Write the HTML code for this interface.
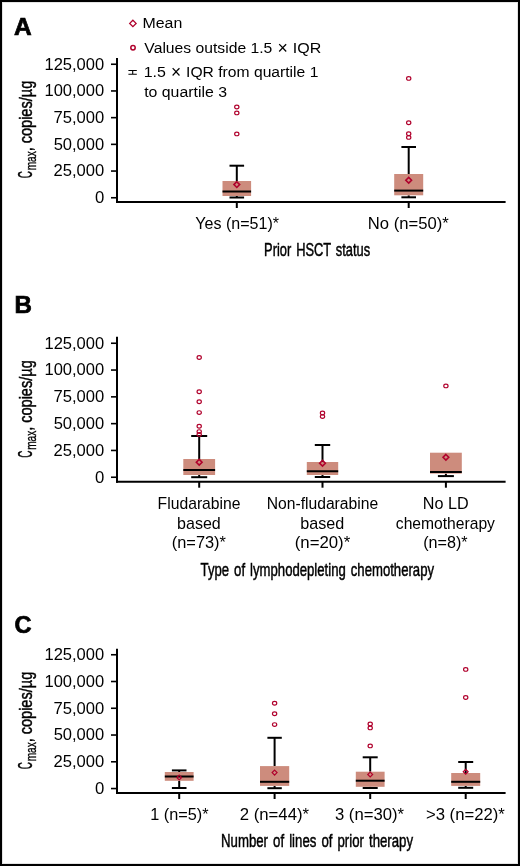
<!DOCTYPE html>
<html><head><meta charset="utf-8"><style>
html,body{margin:0;padding:0;background:#fff;}
svg{display:block;will-change:transform;}
text{font-family:"Liberation Sans", sans-serif;fill:#000;}
.k{stroke:#000;stroke-width:2;fill:none;}
.r{stroke:#b0002c;stroke-width:1.6;fill:none;}
.rc{stroke:#b0002c;stroke-width:1.2;fill:none;}
.rl{stroke:#b0002c;stroke-width:1.5;fill:none;}
</style></head><body>
<svg width="520" height="866" viewBox="0 0 520 866">
<rect x="1" y="1" width="518" height="864" fill="#fff" stroke="#000" stroke-width="2"/>
<rect x="2.5" y="2.5" width="515" height="861" fill="none" stroke="#e4e4e4" stroke-width="1"/>

<text transform="translate(13.99,34.6) scale(1.0627,1)" font-size="23" font-weight="bold" stroke="#000" stroke-width="0.7">A</text>
<path d="M132.9,20.2 L136.1,23.4 L132.9,26.6 L129.7,23.4 Z" stroke="#b0002c" stroke-width="1.3" fill="none"/>
<text transform="translate(142.49,28) scale(1.0278,1)" font-size="15.5">Mean</text>
<circle cx="133" cy="47.8" r="2.2" class="rl"/>
<text transform="translate(144.34,53) scale(1.0137,1)" font-size="15.5">Values outside 1.5</text>
<text transform="translate(277.56,54) scale(0.9863,1)" font-size="18">×</text>
<text transform="translate(292.72,53) scale(1.0346,1)" font-size="15.5">IQR</text>
<path d="M128.4,70.5 H136.8 M128.4,74.3 H136.8 M132.7,70.5 V74.3" stroke="#000" stroke-width="1.1" fill="none"/>
<text transform="translate(143.69,77) scale(1.0296,1)" font-size="15.5">1.5</text>
<text transform="translate(171.09,78.3) scale(0.9613,1)" font-size="18">×</text>
<text transform="translate(186.06,77) scale(1.0105,1)" font-size="15.5">IQR from quartile 1</text>
<text transform="translate(144.16,97) scale(1.0241,1)" font-size="15.5">to quartile 3</text>
<line x1="117" y1="58" x2="117" y2="203" class="k"/><line x1="116" y1="202" x2="505.6" y2="202" class="k"/><line x1="111" y1="64.25" x2="117" y2="64.25" stroke="#000" stroke-width="1.6"/><text transform="translate(44.44,69.6) scale(1.0149,1)" font-size="16.3">125,000</text><line x1="111" y1="90.95" x2="117" y2="90.95" stroke="#000" stroke-width="1.6"/><text transform="translate(44.44,96.3) scale(1.0149,1)" font-size="16.3">100,000</text><line x1="111" y1="117.65" x2="117" y2="117.65" stroke="#000" stroke-width="1.6"/><text transform="translate(53.45,123.0) scale(1.0190,1)" font-size="16.3">75,000</text><line x1="111" y1="144.35" x2="117" y2="144.35" stroke="#000" stroke-width="1.6"/><text transform="translate(53.64,149.7) scale(1.0153,1)" font-size="16.3">50,000</text><line x1="111" y1="171.05" x2="117" y2="171.05" stroke="#000" stroke-width="1.6"/><text transform="translate(53.47,176.4) scale(1.0187,1)" font-size="16.3">25,000</text><line x1="111" y1="197.75" x2="117" y2="197.75" stroke="#000" stroke-width="1.6"/><text transform="translate(94.95,203.1) scale(1.0268,1)" font-size="16.3">0</text><line x1="236.8" y1="202" x2="236.8" y2="208" class="k"/><line x1="408.7" y1="202" x2="408.7" y2="208" class="k"/>
<g transform="translate(0,200) rotate(-90)"><text transform="translate(21.69,32.2) scale(0.4976,1)" font-size="20" stroke="#000" stroke-width="0.45">C</text><text transform="translate(29.68,35.8) scale(0.6984,1)" font-size="14.5" stroke="#000" stroke-width="0.35">max</text><text transform="translate(48.64,31.5) scale(0.7863,1)" font-size="18.5" stroke="#000" stroke-width="0.45">, copies/µg</text></g>
<line x1="236.8" y1="165.7" x2="236.8" y2="181" class="k"/><line x1="229.5" y1="165.7" x2="244.10000000000002" y2="165.7" class="k"/><line x1="236.8" y1="196" x2="236.8" y2="197.5" class="k"/><line x1="229.5" y1="197.5" x2="244.10000000000002" y2="197.5" class="k"/><rect x="222.5" y="181" width="28.6" height="15" fill="#cd8c7d"/><line x1="222.5" y1="191.5" x2="251.10000000000002" y2="191.5" class="k"/><path d="M236.8,181.75 L239.65,184.6 L236.8,187.45 L233.95000000000002,184.6 Z" stroke="#b0002c" stroke-width="1.6" fill="none"/><ellipse cx="236.8" cy="107" rx="2.15" ry="1.85" class="rc"/><ellipse cx="236.8" cy="112.9" rx="2.15" ry="1.85" class="rc"/><ellipse cx="236.8" cy="133.9" rx="2.15" ry="1.85" class="rc"/>
<line x1="408.7" y1="147" x2="408.7" y2="174" class="k"/><line x1="401.4" y1="147" x2="416.0" y2="147" class="k"/><line x1="408.7" y1="195.3" x2="408.7" y2="197.3" class="k"/><line x1="401.4" y1="197.3" x2="416.0" y2="197.3" class="k"/><rect x="394.2" y="174" width="29.0" height="21.30000000000001" fill="#cd8c7d"/><line x1="394.2" y1="190.6" x2="423.2" y2="190.6" class="k"/><path d="M408.7,177.35 L411.55,180.2 L408.7,183.04999999999998 L405.84999999999997,180.2 Z" stroke="#b0002c" stroke-width="1.6" fill="none"/><ellipse cx="408.7" cy="78.4" rx="2.15" ry="1.85" class="rc"/><ellipse cx="408.7" cy="122.8" rx="2.15" ry="1.85" class="rc"/><ellipse cx="408.7" cy="133.7" rx="2.15" ry="1.85" class="rc"/><ellipse cx="408.7" cy="137.4" rx="2.15" ry="1.85" class="rc"/>
<text transform="translate(195.35,229) scale(1.0028,1)" font-size="16">Yes (n=51)*</text>
<text transform="translate(367.84,229) scale(1.0399,1)" font-size="16">No (n=50)*</text>
<text transform="translate(264.05,255.9) scale(0.6770,1)" font-size="19" word-spacing="2" stroke="#000" stroke-width="0.5">Prior HSCT status</text>
<text transform="translate(14.39,312.6) scale(1.0478,1)" font-size="23" font-weight="bold" stroke="#000" stroke-width="0.7">B</text>
<line x1="117" y1="336.7" x2="117" y2="482.7" class="k"/><line x1="116" y1="481.7" x2="505.6" y2="481.7" class="k"/><line x1="111" y1="343.25" x2="117" y2="343.25" stroke="#000" stroke-width="1.6"/><text transform="translate(44.44,348.6) scale(1.0149,1)" font-size="16.3">125,000</text><line x1="111" y1="370.05" x2="117" y2="370.05" stroke="#000" stroke-width="1.6"/><text transform="translate(44.44,375.4) scale(1.0149,1)" font-size="16.3">100,000</text><line x1="111" y1="396.85" x2="117" y2="396.85" stroke="#000" stroke-width="1.6"/><text transform="translate(53.45,402.2) scale(1.0190,1)" font-size="16.3">75,000</text><line x1="111" y1="423.65" x2="117" y2="423.65" stroke="#000" stroke-width="1.6"/><text transform="translate(53.64,429.0) scale(1.0153,1)" font-size="16.3">50,000</text><line x1="111" y1="450.45" x2="117" y2="450.45" stroke="#000" stroke-width="1.6"/><text transform="translate(53.47,455.8) scale(1.0187,1)" font-size="16.3">25,000</text><line x1="111" y1="477.25" x2="117" y2="477.25" stroke="#000" stroke-width="1.6"/><text transform="translate(94.95,482.6) scale(1.0268,1)" font-size="16.3">0</text><line x1="199.2" y1="481.7" x2="199.2" y2="487.7" class="k"/><line x1="322.5" y1="481.7" x2="322.5" y2="487.7" class="k"/><line x1="445.9" y1="481.7" x2="445.9" y2="487.7" class="k"/>
<g transform="translate(0,479.5) rotate(-90)"><text transform="translate(21.69,32.2) scale(0.4976,1)" font-size="20" stroke="#000" stroke-width="0.45">C</text><text transform="translate(29.68,35.8) scale(0.6984,1)" font-size="14.5" stroke="#000" stroke-width="0.35">max</text><text transform="translate(48.64,31.5) scale(0.7863,1)" font-size="18.5" stroke="#000" stroke-width="0.45">, copies/µg</text></g>
<line x1="199.2" y1="436" x2="199.2" y2="459" class="k"/><line x1="191.2" y1="436" x2="207.2" y2="436" class="k"/><line x1="199.2" y1="475" x2="199.2" y2="477.2" class="k"/><line x1="191.2" y1="477.2" x2="207.2" y2="477.2" class="k"/><rect x="183.29999999999998" y="459" width="31.8" height="16" fill="#cd8c7d"/><line x1="183.29999999999998" y1="470" x2="215.1" y2="470" class="k"/><path d="M199.2,459.34999999999997 L202.04999999999998,462.2 L199.2,465.05 L196.35,462.2 Z" stroke="#b0002c" stroke-width="1.6" fill="none"/><ellipse cx="199.2" cy="357.5" rx="2.15" ry="1.85" class="rc"/><ellipse cx="199.2" cy="391.8" rx="2.15" ry="1.85" class="rc"/><ellipse cx="199.2" cy="401.8" rx="2.15" ry="1.85" class="rc"/><ellipse cx="199.2" cy="412.6" rx="2.15" ry="1.85" class="rc"/><ellipse cx="199.2" cy="426.3" rx="2.15" ry="1.85" class="rc"/><ellipse cx="199.2" cy="431.6" rx="2.15" ry="1.85" class="rc"/><ellipse cx="199.2" cy="434.4" rx="2.15" ry="1.85" class="rc"/>
<line x1="322.5" y1="445" x2="322.5" y2="462" class="k"/><line x1="314.8" y1="445" x2="330.2" y2="445" class="k"/><line x1="322.5" y1="475" x2="322.5" y2="477" class="k"/><line x1="314.8" y1="477" x2="330.2" y2="477" class="k"/><rect x="306.8" y="462" width="31.4" height="13" fill="#cd8c7d"/><line x1="306.8" y1="471.3" x2="338.2" y2="471.3" class="k"/><path d="M322.5,460.34999999999997 L325.35,463.2 L322.5,466.05 L319.65,463.2 Z" stroke="#b0002c" stroke-width="1.6" fill="none"/><ellipse cx="322.5" cy="413" rx="2.15" ry="1.85" class="rc"/><ellipse cx="322.5" cy="416.6" rx="2.15" ry="1.85" class="rc"/>
<line x1="445.9" y1="473.6" x2="445.9" y2="476.1" class="k"/><line x1="437.9" y1="476.1" x2="453.9" y2="476.1" class="k"/><rect x="430.0" y="452.7" width="31.8" height="20.900000000000034" fill="#cd8c7d"/><line x1="430.0" y1="472" x2="461.79999999999995" y2="472" class="k"/><path d="M445.9,454.45 L448.75,457.3 L445.9,460.15000000000003 L443.04999999999995,457.3 Z" stroke="#b0002c" stroke-width="1.6" fill="none"/><ellipse cx="445.9" cy="385.9" rx="2.15" ry="1.85" class="rc"/>
<text transform="translate(157.61,509) scale(0.9821,1)" font-size="16">Fludarabine</text>
<text transform="translate(177.07,529) scale(1.0039,1)" font-size="16">based</text>
<text transform="translate(171.78,548) scale(1.0239,1)" font-size="16">(n=73)*</text>
<text transform="translate(266.72,509) scale(0.9791,1)" font-size="16">Non-fludarabine</text>
<text transform="translate(300.21,529) scale(1.0112,1)" font-size="16">based</text>
<text transform="translate(294.71,548) scale(1.0501,1)" font-size="16">(n=20)*</text>
<text transform="translate(422.87,509) scale(1.0124,1)" font-size="16">No LD</text>
<text transform="translate(395.84,529) scale(0.9783,1)" font-size="16">chemotherapy</text>
<text transform="translate(423.20,548) scale(1.0101,1)" font-size="16">(n=8)*</text>
<text transform="translate(200.61,575.5) scale(0.6916,1)" font-size="19" word-spacing="2" stroke="#000" stroke-width="0.5">Type of lymphodepleting chemotherapy</text>
<text transform="translate(14.43,632.6) scale(1.0238,1)" font-size="23" font-weight="bold" stroke="#000" stroke-width="0.7">C</text>
<line x1="117" y1="648.8" x2="117" y2="794" class="k"/><line x1="116" y1="793" x2="505.6" y2="793" class="k"/><line x1="111" y1="654.75" x2="117" y2="654.75" stroke="#000" stroke-width="1.6"/><text transform="translate(44.44,660.1) scale(1.0149,1)" font-size="16.3">125,000</text><line x1="111" y1="681.51" x2="117" y2="681.51" stroke="#000" stroke-width="1.6"/><text transform="translate(44.44,686.86) scale(1.0149,1)" font-size="16.3">100,000</text><line x1="111" y1="708.27" x2="117" y2="708.27" stroke="#000" stroke-width="1.6"/><text transform="translate(53.45,713.62) scale(1.0190,1)" font-size="16.3">75,000</text><line x1="111" y1="735.03" x2="117" y2="735.03" stroke="#000" stroke-width="1.6"/><text transform="translate(53.64,740.38) scale(1.0153,1)" font-size="16.3">50,000</text><line x1="111" y1="761.79" x2="117" y2="761.79" stroke="#000" stroke-width="1.6"/><text transform="translate(53.47,767.14) scale(1.0187,1)" font-size="16.3">25,000</text><line x1="111" y1="788.55" x2="117" y2="788.55" stroke="#000" stroke-width="1.6"/><text transform="translate(94.95,793.9) scale(1.0268,1)" font-size="16.3">0</text><line x1="179.2" y1="793" x2="179.2" y2="799" class="k"/><line x1="274.6" y1="793" x2="274.6" y2="799" class="k"/><line x1="370.2" y1="793" x2="370.2" y2="799" class="k"/><line x1="465.7" y1="793" x2="465.7" y2="799" class="k"/>
<g transform="translate(0,791) rotate(-90)"><text transform="translate(21.69,32.2) scale(0.4976,1)" font-size="20" stroke="#000" stroke-width="0.45">C</text><text transform="translate(29.68,35.8) scale(0.6984,1)" font-size="14.5" stroke="#000" stroke-width="0.35">max</text><text transform="translate(48.64,31.5) scale(0.7863,1)" font-size="18.5" stroke="#000" stroke-width="0.45">, copies/µg</text></g>
<line x1="179.2" y1="770.4" x2="179.2" y2="772" class="k"/><line x1="171.89999999999998" y1="770.4" x2="186.5" y2="770.4" class="k"/><line x1="179.2" y1="780.8" x2="179.2" y2="788" class="k"/><line x1="171.89999999999998" y1="788" x2="186.5" y2="788" class="k"/><rect x="164.79999999999998" y="772" width="28.8" height="8.799999999999955" fill="#cd8c7d"/><line x1="164.79999999999998" y1="776.5" x2="193.6" y2="776.5" class="k"/><path d="M179.2,775.05 L181.64999999999998,777.5 L179.2,779.95 L176.75,777.5 Z" stroke="#b0002c" stroke-width="1.2" fill="none"/>
<line x1="274.6" y1="737.8" x2="274.6" y2="766.1" class="k"/><line x1="267.40000000000003" y1="737.8" x2="281.8" y2="737.8" class="k"/><line x1="274.6" y1="785.9" x2="274.6" y2="788.2" class="k"/><line x1="267.40000000000003" y1="788.2" x2="281.8" y2="788.2" class="k"/><rect x="260.0" y="766.1" width="29.2" height="19.799999999999955" fill="#cd8c7d"/><line x1="260.0" y1="781.8" x2="289.20000000000005" y2="781.8" class="k"/><path d="M274.6,770.15 L277.05,772.6 L274.6,775.0500000000001 L272.15000000000003,772.6 Z" stroke="#b0002c" stroke-width="1.2" fill="none"/><ellipse cx="274.6" cy="703.2" rx="2.15" ry="1.85" class="rc"/><ellipse cx="274.6" cy="713.7" rx="2.15" ry="1.85" class="rc"/><ellipse cx="274.6" cy="724.6" rx="2.15" ry="1.85" class="rc"/>
<line x1="370.2" y1="757.3" x2="370.2" y2="771.7" class="k"/><line x1="362.7" y1="757.3" x2="377.7" y2="757.3" class="k"/><line x1="370.2" y1="786.8" x2="370.2" y2="788" class="k"/><line x1="362.7" y1="788" x2="377.7" y2="788" class="k"/><rect x="355.8" y="771.7" width="28.8" height="15.099999999999909" fill="#cd8c7d"/><line x1="355.8" y1="780.7" x2="384.59999999999997" y2="780.7" class="k"/><path d="M370.2,772.05 L372.65,774.5 L370.2,776.95 L367.75,774.5 Z" stroke="#b0002c" stroke-width="1.2" fill="none"/><ellipse cx="370.2" cy="724" rx="2.15" ry="1.85" class="rc"/><ellipse cx="370.2" cy="727.9" rx="2.15" ry="1.85" class="rc"/><ellipse cx="370.2" cy="745.9" rx="2.15" ry="1.85" class="rc"/>
<line x1="465.7" y1="762" x2="465.7" y2="773" class="k"/><line x1="458.2" y1="762" x2="473.2" y2="762" class="k"/><line x1="465.7" y1="785.9" x2="465.7" y2="787.8" class="k"/><line x1="458.2" y1="787.8" x2="473.2" y2="787.8" class="k"/><rect x="451.2" y="773" width="29.0" height="12.899999999999977" fill="#cd8c7d"/><line x1="451.2" y1="781.8" x2="480.2" y2="781.8" class="k"/><path d="M465.7,769.25 L468.15,771.7 L465.7,774.1500000000001 L463.25,771.7 Z" stroke="#b0002c" stroke-width="1.2" fill="none"/><ellipse cx="465.7" cy="669.4" rx="2.15" ry="1.85" class="rc"/><ellipse cx="465.7" cy="697.5" rx="2.15" ry="1.85" class="rc"/>
<text transform="translate(150.26,820.3) scale(1.0163,1)" font-size="16">1 (n=5)*</text>
<text transform="translate(239.76,820.3) scale(1.0460,1)" font-size="16">2 (n=44)*</text>
<text transform="translate(334.97,820.3) scale(1.0429,1)" font-size="16">3 (n=30)*</text>
<text transform="translate(425.88,820.3) scale(1.0448,1)" font-size="16">&gt;3 (n=22)*</text>
<text transform="translate(221.02,846.6) scale(0.6958,1)" font-size="19" word-spacing="2" stroke="#000" stroke-width="0.5">Number of lines of prior therapy</text>
</svg></body></html>
